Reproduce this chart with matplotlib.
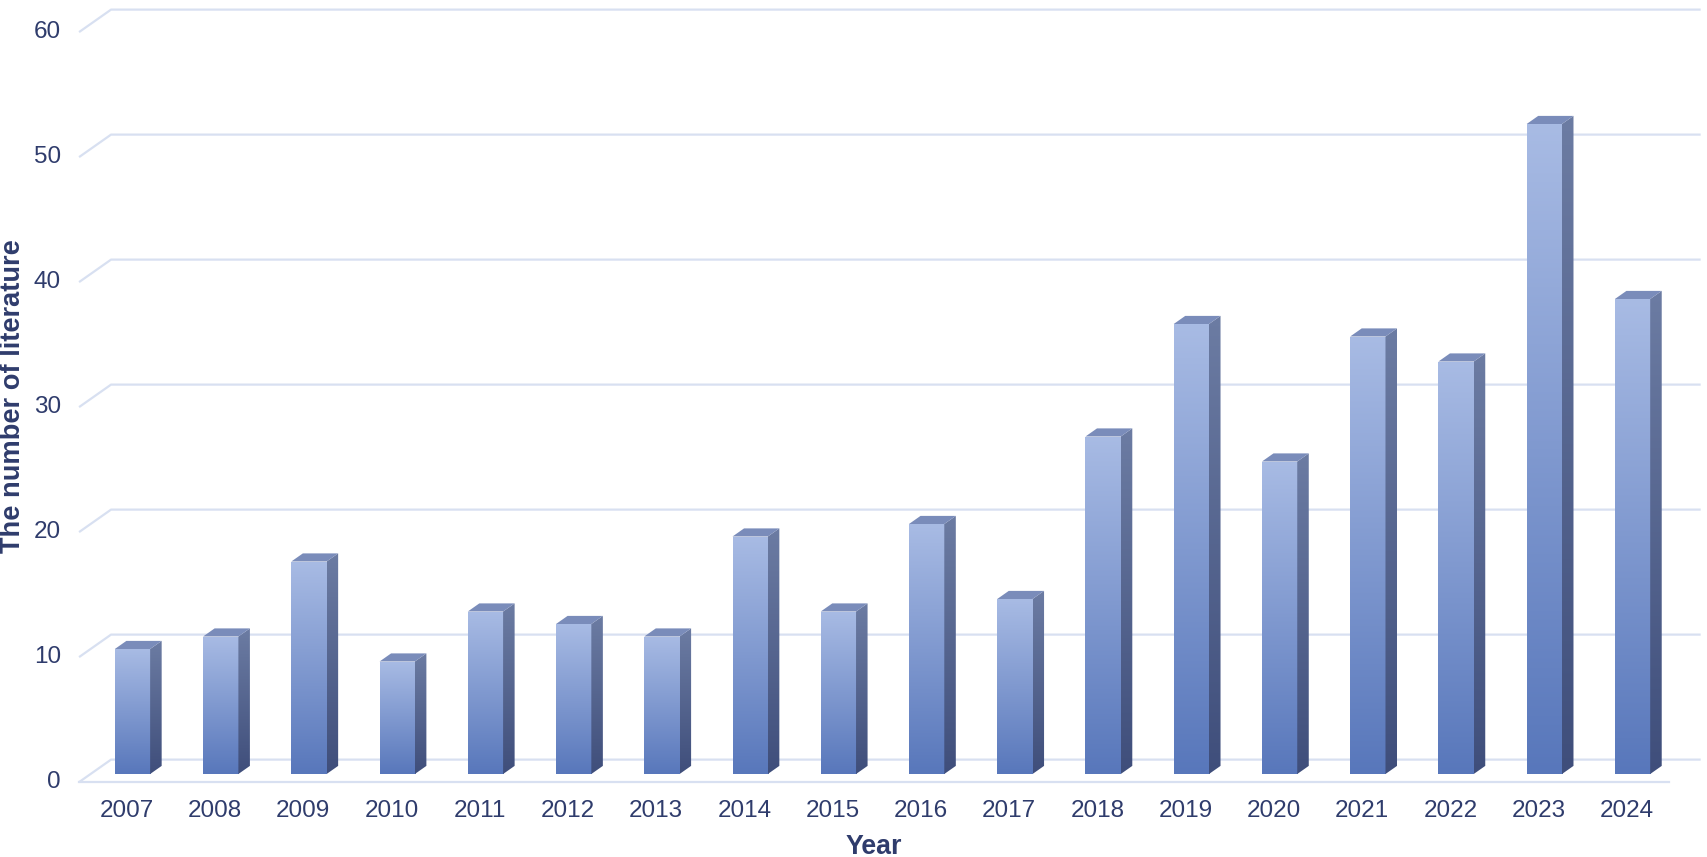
import numpy as np
import matplotlib
matplotlib.use("Agg")
import matplotlib.pyplot as plt
from matplotlib.patches import Polygon
from matplotlib.colors import to_rgb

# ---- data ----
years = ["2007", "2008", "2009", "2010", "2011", "2012", "2013", "2014", "2015",
         "2016", "2017", "2018", "2019", "2020", "2021", "2022", "2023", "2024"]
counts = [10, 11, 17, 9, 13, 12, 11, 19, 13, 20, 14, 27, 36, 25, 35, 33, 52, 38]
yticks = [0, 10, 20, 30, 40, 50, 60]
xlabel = "Year"
ylabel = "The number of literature"

# ---- style ----
TEXT = "#2F3C6C"
GRID = "#D8E0F1"
FRONT_TOP = to_rgb("#A8BBE4")
FRONT_BOT = to_rgb("#5877BB")
SIDE_TOP = to_rgb("#6C7CA3")
SIDE_BOT = to_rgb("#3F4E7B")
TOP_FACE = "#7A8CBA"
plt.rcParams['font.family'] = ['Liberation Sans', 'DejaVu Sans']

fig = plt.figure(figsize=(17.08, 8.57), dpi=100)
ax = fig.add_axes([0, 0, 1, 1])
ax.axis('off')

# oblique projection parameters (depth direction)
DX, DY = 0.3626, 1.8
D0, D1 = 0.36, 0.72
W = 0.40
FLOOR_L, FLOOR_R = -0.475, 17.54


def proj(i, v, d):
    return i + (d - D0) * DX, v + (d - D0) * DY


# walls / gridlines
for t in yticks:
    x0, y0 = proj(FLOOR_L, t, 0)
    x1, y1 = proj(FLOOR_L, t, 1)
    x2, y2 = proj(FLOOR_R, t, 1)
    ax.plot([x0, x1, x2], [y0, y1, y2], color=GRID, lw=1.6, zorder=1,
            solid_capstyle='butt')
    ax.annotate(str(t), (x0, y0), xytext=(-18, 0), textcoords='offset pixels',
                ha='right', va='center', fontsize=17.5, color=TEXT)
# floor front edge
fx0, fy0 = proj(FLOOR_L, 0, 0)
fx1, fy1 = proj(FLOOR_R, 0, 0)
ax.plot([fx0, fx1], [fy0, fy1], color=GRID, lw=1.6, zorder=1)


def grad(c_top, c_bot, n=256):
    f = np.linspace(0, 1, n)[:, None]
    a, b = np.array(c_top), np.array(c_bot)
    return (a[None, :] * (1 - f) + b[None, :] * f)[:, None, :]


xs = np.arange(len(years))
bars = ax.bar(xs, counts, width=W, color='none', edgecolor='none', zorder=3)
for i, (b, v) in enumerate(zip(bars, counts)):
    x0, x1 = i - W / 2, i + W / 2
    im = ax.imshow(grad(FRONT_TOP, FRONT_BOT), extent=(x0, x1, 0, v),
                   aspect='auto', origin='upper', zorder=3, interpolation='bilinear')
    im.set_clip_path(b)
    # side face
    side = [proj(x1, 0, D0), proj(x1, 0, D1), proj(x1, v, D1), proj(x1, v, D0)]
    sp = Polygon(side, closed=True, facecolor='none', edgecolor='none', zorder=3)
    ax.add_patch(sp)
    sx = [p[0] for p in side]
    sy = [p[1] for p in side]
    ims = ax.imshow(grad(SIDE_TOP, SIDE_BOT), extent=(min(sx), max(sx), min(sy), max(sy)),
                    aspect='auto', origin='upper', zorder=3, interpolation='bilinear')
    ims.set_clip_path(sp)
    # top face
    top = [proj(x0, v, D0), proj(x1, v, D0), proj(x1, v, D1), proj(x0, v, D1)]
    ax.add_patch(Polygon(top, closed=True, facecolor=TOP_FACE, edgecolor='none', zorder=4))
    # category label
    ax.text(i - 0.065, -2.95, years[i], ha='center', va='center', fontsize=17.5, color=TEXT)

ax.set_xlim(-1.5016, 17.855)
ax.set_ylim(-6.64, 61.92)

fig.text(874 / 1708, 1 - 847 / 857, xlabel, ha='center', va='center',
         fontsize=19.3, fontweight='bold', color=TEXT)
fig.text(13 / 1708, 1 - 396 / 857, ylabel, ha='center', va='center', rotation=90,
         fontsize=19.6, fontweight='bold', color=TEXT)

fig.savefig("out.png", dpi=100)
